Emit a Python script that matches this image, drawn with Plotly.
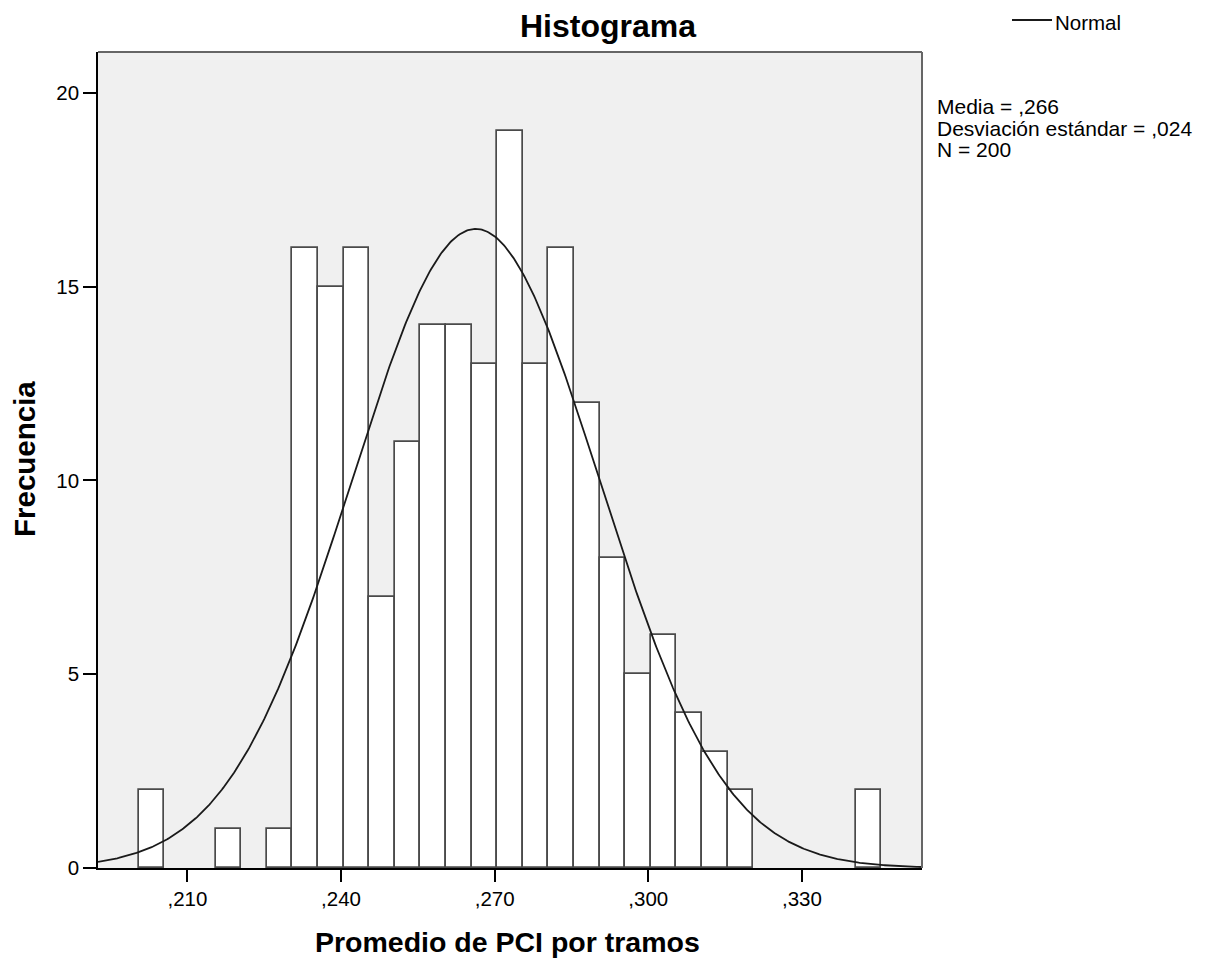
import numpy as np
import plotly.graph_objects as go

# Frequency histogram of "Promedio de PCI por tramos"
BIN_START = 0.2005
BIN_WIDTH = 0.005
counts = [2, 0, 0, 1, 0, 1, 16, 15, 16, 7, 11, 14, 14, 13, 19, 13,
          16, 12, 8, 5, 6, 4, 3, 2, 0, 0, 0, 0, 2]

# Summary statistics of the sample (fitted normal curve)
MEAN = 0.2663
SD = 0.0242
N = 200

x_ticks = [0.210, 0.240, 0.270, 0.300, 0.330]
x_tick_text = [",210", ",240", ",270", ",300", ",330"]
y_ticks = [0, 5, 10, 15, 20]

X_RANGE = [0.19253, 0.35345]
Y_RANGE = [0, 21.05]

FONT = "Liberation Sans, Arial, sans-serif"

W, H = 1216, 960
ML, MR, MT, MB = 98, 294, 52, 92
PW = W - ML - MR
PH = H - MT - MB


def px_x(p):
    return (p - ML) / PW


def px_y(p):
    return (H - MB - p) / PH


centers = [BIN_START + BIN_WIDTH * (i + 0.5) for i, c in enumerate(counts) if c > 0]
heights = [c for c in counts if c > 0]

xs = np.linspace(X_RANGE[0], X_RANGE[1], 600)
curve = N * BIN_WIDTH * np.exp(-0.5 * ((xs - MEAN) / SD) ** 2) / (SD * np.sqrt(2 * np.pi))

fig = go.Figure()
fig.add_trace(go.Bar(
    x=centers, y=heights, width=BIN_WIDTH,
    marker=dict(color="white", line=dict(color="#4a4a4a", width=1.7)),
    showlegend=False, hoverinfo="x+y",
))
fig.add_trace(go.Scatter(
    x=xs, y=curve, mode="lines",
    line=dict(color="#1a1a1a", width=1.8),
    name="Normal", showlegend=False,
))

annotations = [
    dict(text="<b>Frecuencia</b>", xref="paper", yref="paper",
         x=px_x(24), y=px_y(459), xanchor="center", yanchor="middle",
         textangle=-90, showarrow=False, font=dict(size=29.5, color="black")),
    dict(text="<b>Promedio de PCI por tramos</b>", xref="paper", yref="paper",
         x=px_x(507), y=px_y(942), xanchor="center", yanchor="middle",
         showarrow=False, font=dict(size=28.5, color="black")),
    dict(text="Normal", xref="paper", yref="paper",
         x=px_x(1053), y=px_y(22.5), xanchor="left", yanchor="middle",
         showarrow=False, font=dict(size=20.5, color="black")),
]
stats_lines = ["Media = ,%03d" % round(MEAN * 1000),
               "Desviación estándar = ,%03d" % round(SD * 1000),
               "N = %d" % N]
for text, ymid in zip(stats_lines, [106.5, 128.5, 149]):
    annotations.append(dict(text=text, xref="paper", yref="paper",
                            x=px_x(935), y=px_y(ymid), xanchor="left", yanchor="middle",
                            showarrow=False, font=dict(size=21, color="black")))

shapes = [
    # top and right frame of the plot area
    dict(type="line", xref="paper", yref="paper", x0=0, x1=1, y0=1, y1=1,
         line=dict(color="#666666", width=2)),
    dict(type="line", xref="paper", yref="paper", x0=1, x1=1, y0=0, y1=1,
         line=dict(color="#666666", width=2)),
    # legend sample for the normal curve
    dict(type="line", xref="paper", yref="paper",
         x0=px_x(1012), x1=px_x(1052), y0=px_y(20), y1=px_y(20),
         line=dict(color="#1a1a1a", width=1.8)),
]

fig.update_layout(
    width=W, height=H,
    margin=dict(l=ML, r=MR, t=MT, b=MB, pad=0),
    paper_bgcolor="white", plot_bgcolor="#f0f0f0",
    font=dict(family=FONT, color="black"),
    title=dict(text="<b>Histograma</b>", x=0.5, xref="container", xanchor="center",
               y=1 - 15 / H, yref="container", yanchor="top",
               font=dict(size=32, color="black")),
    bargap=0,
    showlegend=False,
    xaxis=dict(range=X_RANGE, tickvals=x_ticks, ticktext=x_tick_text,
               showgrid=False, zeroline=False, showline=True,
               linecolor="black", linewidth=1.6,
               ticks="outside", ticklen=12, tickwidth=1.6, tickcolor="black",
               tickfont=dict(size=20.5, color="black")),
    yaxis=dict(range=Y_RANGE, tickvals=y_ticks,
               showgrid=False, zeroline=False, showline=True,
               linecolor="black", linewidth=1.6,
               ticks="outside", ticklen=13, tickwidth=1.6, tickcolor="black",
               tickfont=dict(size=20.5, color="black")),
    annotations=annotations,
    shapes=shapes,
)

fig.write_html("out.html")
